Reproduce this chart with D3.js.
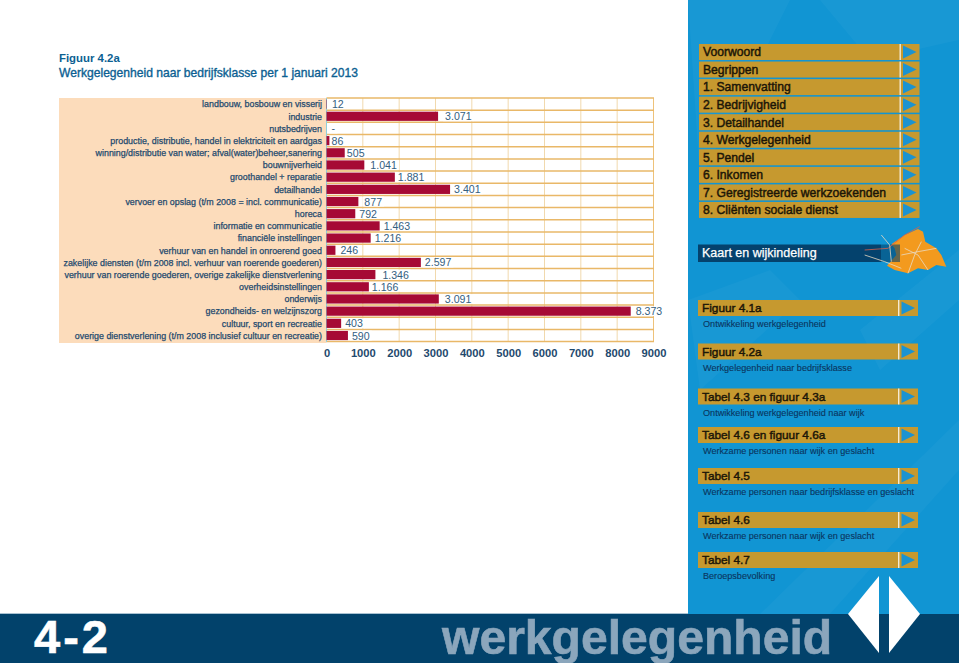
<!DOCTYPE html>
<html><head><meta charset="utf-8">
<script src="https://cdn.jsdelivr.net/npm/d3@7/dist/d3.min.js"></script>
<style>html,body{margin:0;padding:0;background:#fff}svg{display:block}text{font-family:"Liberation Sans",Arial,sans-serif}</style>
</head><body><svg id="c" width="959" height="663"></svg>
<script>
const categories = ["landbouw, bosbouw en visserij","industrie","nutsbedrijven","productie, distributie, handel in elektriciteit en aardgas","winning/distributie van water; afval(water)beheer,sanering","bouwnijverheid","groothandel + reparatie","detailhandel","vervoer en opslag (t/m 2008 = incl. communicatie)","horeca","informatie en communicatie","financiële instellingen","verhuur van en handel in onroerend goed","zakelijke diensten (t/m 2008 incl. verhuur van roerende goederen)","verhuur van roerende goederen, overige zakelijke dienstverlening","overheidsinstellingen","onderwijs","gezondheids- en welzijnszorg","cultuur, sport en recreatie","overige dienstverlening (t/m 2008 inclusief cultuur en recreatie)"];
const values = [12,3071,null,86,505,1041,1881,3401,877,792,1463,1216,246,2597,1346,1166,3091,8373,403,590];
const xTicks = [0,1000,2000,3000,4000,5000,6000,7000,8000,9000];
const titleLines = ["Figuur 4.2a","Werkgelegenheid naar bedrijfsklasse per 1 januari 2013"];
const navItems = ["Voorwoord","Begrippen","1. Samenvatting","2. Bedrijvigheid","3. Detailhandel","4. Werkgelegenheid","5. Pendel","6. Inkomen","7. Geregistreerde werkzoekenden","8. Cliënten sociale dienst"];
const linkTitles = ["Figuur 4.1a","Figuur 4.2a","Tabel 4.3 en figuur 4.3a","Tabel 4.6 en figuur 4.6a","Tabel 4.5","Tabel 4.6","Tabel 4.7"];
const linkSubs = ["Ontwikkeling werkgelegenheid","Werkgelegenheid naar bedrijfsklasse","Ontwikkeling werkgelegenheid naar wijk","Werkzame personen naar wijk en geslacht","Werkzame personen naar bedrijfsklasse en geslacht","Werkzame personen naar wijk en geslacht","Beroepsbevolking"];

// layout (not data)
const labelNudge = [5,7,5,2,2,6,3,4,6,4,4,4,5,4,7,3,6,5,4,4];
const linkTops = [300,343.5,388.5,427,468,512,552];

const svg = d3.select("#c");
const x = d3.scaleLinear().domain([0,9000]).range([326.5,653.5]);
const y = d3.scaleBand().domain(categories).range([98,341.6]);
const fmt = d3.formatLocale({decimal:",",thousands:".",grouping:[3],currency:["",""]}).format(",d");

// left panel
svg.append("rect").attr("x",59).attr("y",98).attr("width",267.5).attr("height",245).attr("fill","#fcdcbb");
svg.append("g").selectAll("text").data(titleLines).join("text")
  .attr("x",59).attr("y",(d,i)=>62+i*15).attr("font-size",(d,i)=>i?12.1:11.4).attr("font-weight",(d,i)=>i?"400":"700")
  .attr("stroke","#0c5f92").attr("stroke-width",(d,i)=>i?0.35:0).attr("fill","#0c5f92").text(d=>d);

// grid
const grid = svg.append("g");
grid.selectAll("line.v").data(xTicks.slice(1)).join("line").attr("class","v")
  .attr("x1",d=>x(d)).attr("x2",d=>x(d)).attr("y1",98).attr("y2",342)
  .attr("stroke",(d,i)=>i%9==8?"#eec27a":"#f1d9ad").attr("stroke-width",1);
grid.selectAll("line.h").data(d3.range(categories.length+1)).join("line").attr("class","h")
  .attr("x1",326.5).attr("x2",654).attr("y1",i=>98+i*y.step()).attr("y2",i=>98+i*y.step())
  .attr("stroke","#e9b868").attr("stroke-width",1.5);
svg.append("line").attr("x1",326.5).attr("x2",326.5).attr("y1",98).attr("y2",342).attr("stroke","#8fd0dc").attr("stroke-width",1);

// category labels
svg.append("g").selectAll("text").data(categories).join("text")
  .attr("x",322).attr("y",d=>y(d)+y.bandwidth()/2+3.3).attr("text-anchor","end")
  .attr("font-size",8.9).attr("fill","#1f4a6e").attr("stroke","#1f4a6e").attr("stroke-width",0.25).text(d=>d);

// bars
const bh = 9.2;
svg.append("g").selectAll("rect").data(values.map((v,i)=>({v,c:categories[i]})).filter(d=>d.v)).join("rect")
  .attr("x",x(0)).attr("y",d=>y(d.c)+(y.bandwidth()-bh)/2).attr("width",d=>x(d.v)-x(0)).attr("height",bh).attr("fill","#a60a35");

// value labels with white plates
const vg = svg.append("g");
values.forEach((v,i)=>{
  const g = vg.append("g");
  const tx = x(v||0)+labelNudge[i];
  const t = g.append("text").attr("x",tx).attr("y",y(categories[i])+y.bandwidth()/2+4)
    .attr("font-size",10.6).attr("fill","#34607f").text(v===null?"-":fmt(v));
  const b = t.node().getBBox();
  g.insert("rect","text").attr("x",b.x-2).attr("y",y(categories[i])+1.2).attr("width",b.width+4).attr("height",y.step()-2.4).attr("fill","#fff");
});

// x axis labels through d3 axis
const ax = svg.append("g").attr("transform","translate(0,342)")
  .call(d3.axisBottom(x).tickValues(xTicks).tickSize(0).tickPadding(7.5).tickFormat(d3.format("d")));
ax.select(".domain").remove();
ax.selectAll("text").attr("font-size",11.2).attr("font-weight",700).attr("fill","#1f4a6e").style("font-family",'"Liberation Sans",Arial,sans-serif');

// sidebar
const side = svg.append("g");
side.append("rect").attr("x",688).attr("y",0).attr("width",271).attr("height",614).attr("fill","#1195d3");
const streaks = [[[688,0],[790,0],[700,180]],[[860,330],[959,250],[959,300],[880,370]],[[760,614],[959,420],[959,470],[830,614]],[[820,0],[959,0],[959,40],[870,60]],[[688,300],[770,270],[800,300],[700,390]]];
side.selectAll("polygon.s").data(streaks).join("polygon").attr("class","s")
  .attr("points",d=>d.join(" ")).attr("fill","#fff").attr("opacity",0.03);

function button(g,x0,x1,top,h,sep,label,size){
  g.append("rect").attr("x",x0).attr("y",top).attr("width",x1-x0).attr("height",h).attr("fill","#c6992f");
  g.append("rect").attr("x",sep).attr("y",top).attr("width",1.4).attr("height",h).attr("fill","#f4ead2");
  g.append("polygon").attr("points",[[sep+3.5,top+1.5],[sep+17,top+h/2],[sep+3.5,top+h-1.5]].join(" ")).attr("fill","#1b93d1");
  g.append("text").attr("x",x0+4).attr("y",top+h/2+4.3).attr("font-size",size).attr("fill","#1c1608")
    .attr("stroke","#1c1608").attr("stroke-width",0.45).text(label);
}
const nav = svg.append("g");
navItems.forEach((t,i)=>button(nav,699,919.5,44+i*17.55,16,899.5,t,12.15));

// map & bar
const M = p=>p.map(([a,b])=>[688+a/3,35+b/3]);
svg.append("polygon").attr("points",M([[610,628],[650,600],[690,582],[705,590],[712,620],[745,640],[760,660],[775,695],[745,690],[720,705],[690,700],[660,715],[620,705],[597,692],[625,660],[620,640]]).join(" ")).attr("fill","#f39a1e");
svg.append("rect").attr("x",698).attr("y",244.5).attr("width",183).attr("height",17.5).attr("fill","#04426d");
svg.append("rect").attr("x",881).attr("y",244.5).attr("width",19).attr("height",17.5).attr("fill","#04426d").attr("opacity",0.6);
const mapLines = [[[530,645],[600,640],[650,600],[695,575]],[[530,660],[590,680],[640,700]],[[580,600],[605,630],[610,680]],[[650,640],[690,660],[720,705]],[[700,620],[680,660],[660,715]],[[640,660],[690,650],[745,640]]];
svg.append("g").selectAll("polyline").data(mapLines).join("polyline").attr("points",d=>M(d).join(" "))
  .attr("fill","none").attr("stroke",(d,i)=>i==0?"#d9604a":"#e8d9c2").attr("stroke-width",0.8);
svg.append("text").attr("x",702).attr("y",257).attr("font-size",12.5).attr("fill","#fff").attr("stroke","#fff").attr("stroke-width",0.25).text("Kaart en wijkindeling");

// link buttons
const links = svg.append("g");
linkTitles.forEach((t,i)=>{
  button(links,698,918,linkTops[i],16,898,t,11.8);
  links.append("text").attr("x",703).attr("y",linkTops[i]+27).attr("font-size",9.1).attr("fill","#0b3560")
    .attr("stroke","#0b3560").attr("stroke-width",0.12).text(linkSubs[i]);
});

// footer
svg.append("rect").attr("x",0).attr("y",614).attr("width",959).attr("height",49).attr("fill","#02426b");
svg.append("rect").attr("x",0).attr("y",613).attr("width",688).attr("height",1).attr("fill","#a9c2d2");
svg.append("text").attr("x",34).attr("y",653).attr("font-size",47).attr("font-weight",700).attr("letter-spacing",3).attr("stroke","#fff").attr("stroke-width",0.6).attr("fill","#fff").text("4-2");
svg.append("text").attr("x",442).attr("y",654).attr("font-size",48.1).attr("font-weight",700).attr("stroke","#8ba6bc").attr("stroke-width",0.6).attr("fill","#8ba6bc").text("werkgelegenheid");
svg.append("polygon").attr("points","848,614 879,576 879,653").attr("fill","#fff");
svg.append("polygon").attr("points","889,576 920,614 889,653").attr("fill","#fff");
</script></body></html>
